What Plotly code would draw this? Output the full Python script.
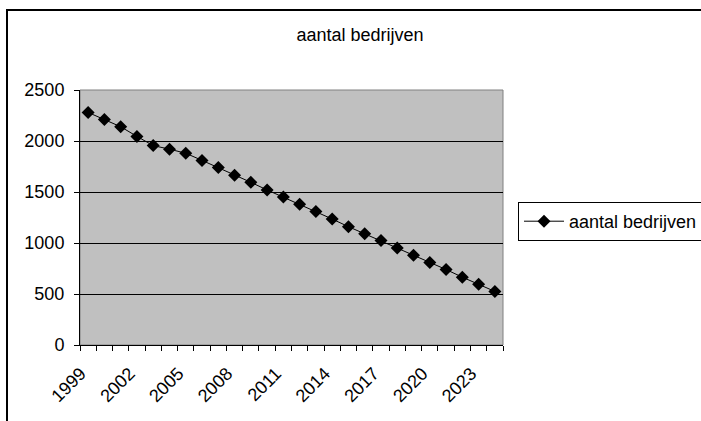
import plotly.graph_objects as go

years = list(range(1999, 2025))
aantal_bedrijven = [2280, 2210, 2140, 2045, 1955, 1920, 1880, 1810, 1740, 1665,
                    1595, 1520, 1450, 1380, 1310, 1235, 1160, 1090, 1025, 950,
                    880, 810, 740, 665, 595, 525]
label_years = years[::3]

FONT = "Liberation Sans, Arial, sans-serif"

# plot area in pixels (701 x 421 canvas)
L, R, T, B = 80, 503, 90, 345
W, H = 701, 421

def px_x(x):
    return (x - L) / (R - L)

def px_y(y):
    return (B - y) / (B - T)

idx = list(range(len(years)))
LABEL_SHIFT = 0.45  # rotated labels sit slightly left of their category

fig = go.Figure()
fig.add_trace(go.Scatter(
    x=idx, y=aantal_bedrijven, mode="lines+markers",
    name="aantal bedrijven",
    line=dict(color="black", width=1),
    marker=dict(symbol="diamond", size=10, color="black"),
))

fig.update_layout(
    width=W, height=H,
    margin=dict(l=L, r=W - R, t=T, b=H - B, autoexpand=False),
    paper_bgcolor="white",
    plot_bgcolor="#C0C0C0",
    font=dict(family=FONT, size=18, color="black"),
    title=dict(text="aantal bedrijven", x=360 / W, xanchor="center",
               y=1 - 35 / H, yanchor="middle", font=dict(size=18)),
    showlegend=True,
    legend=dict(x=px_x(518), xanchor="left", y=px_y(202), yanchor="top",
                bgcolor="white", bordercolor="black", borderwidth=1,
                font=dict(size=18), itemwidth=40),
    xaxis=dict(
        range=[-0.5, len(years) - 0.5],
        tickvals=[years.index(y) - LABEL_SHIFT for y in label_years],
        ticktext=[str(y) for y in label_years],
        tickangle=-45, ticks="", showgrid=False, zeroline=False,
        showline=True, linecolor="black", linewidth=1,
        ticklabelstandoff=10,
        minor=dict(tickvals=[i - 0.5 for i in range(len(years) + 1)],
                   ticks="outside", ticklen=5, tickcolor="black", showgrid=False),
    ),
    yaxis=dict(
        range=[0, 2500], dtick=500, ticks="outside", ticklen=5, tickcolor="black",
        showgrid=True, gridcolor="black", gridwidth=1, zeroline=False,
        showline=True, linecolor="black", linewidth=1,
        ticklabelstandoff=6,
    ),
    shapes=[
        # plot area outline
        dict(type="rect", xref="paper", yref="paper", x0=0, x1=1, y0=0, y1=1,
             line=dict(color="#808080", width=1), layer="below"),
        # chart border
        dict(type="rect", xref="paper", yref="paper",
             x0=px_x(7), x1=px_x(715), y0=px_y(435), y1=px_y(10),
             line=dict(color="black", width=2)),
    ],
)

fig.write_html("out.html")
